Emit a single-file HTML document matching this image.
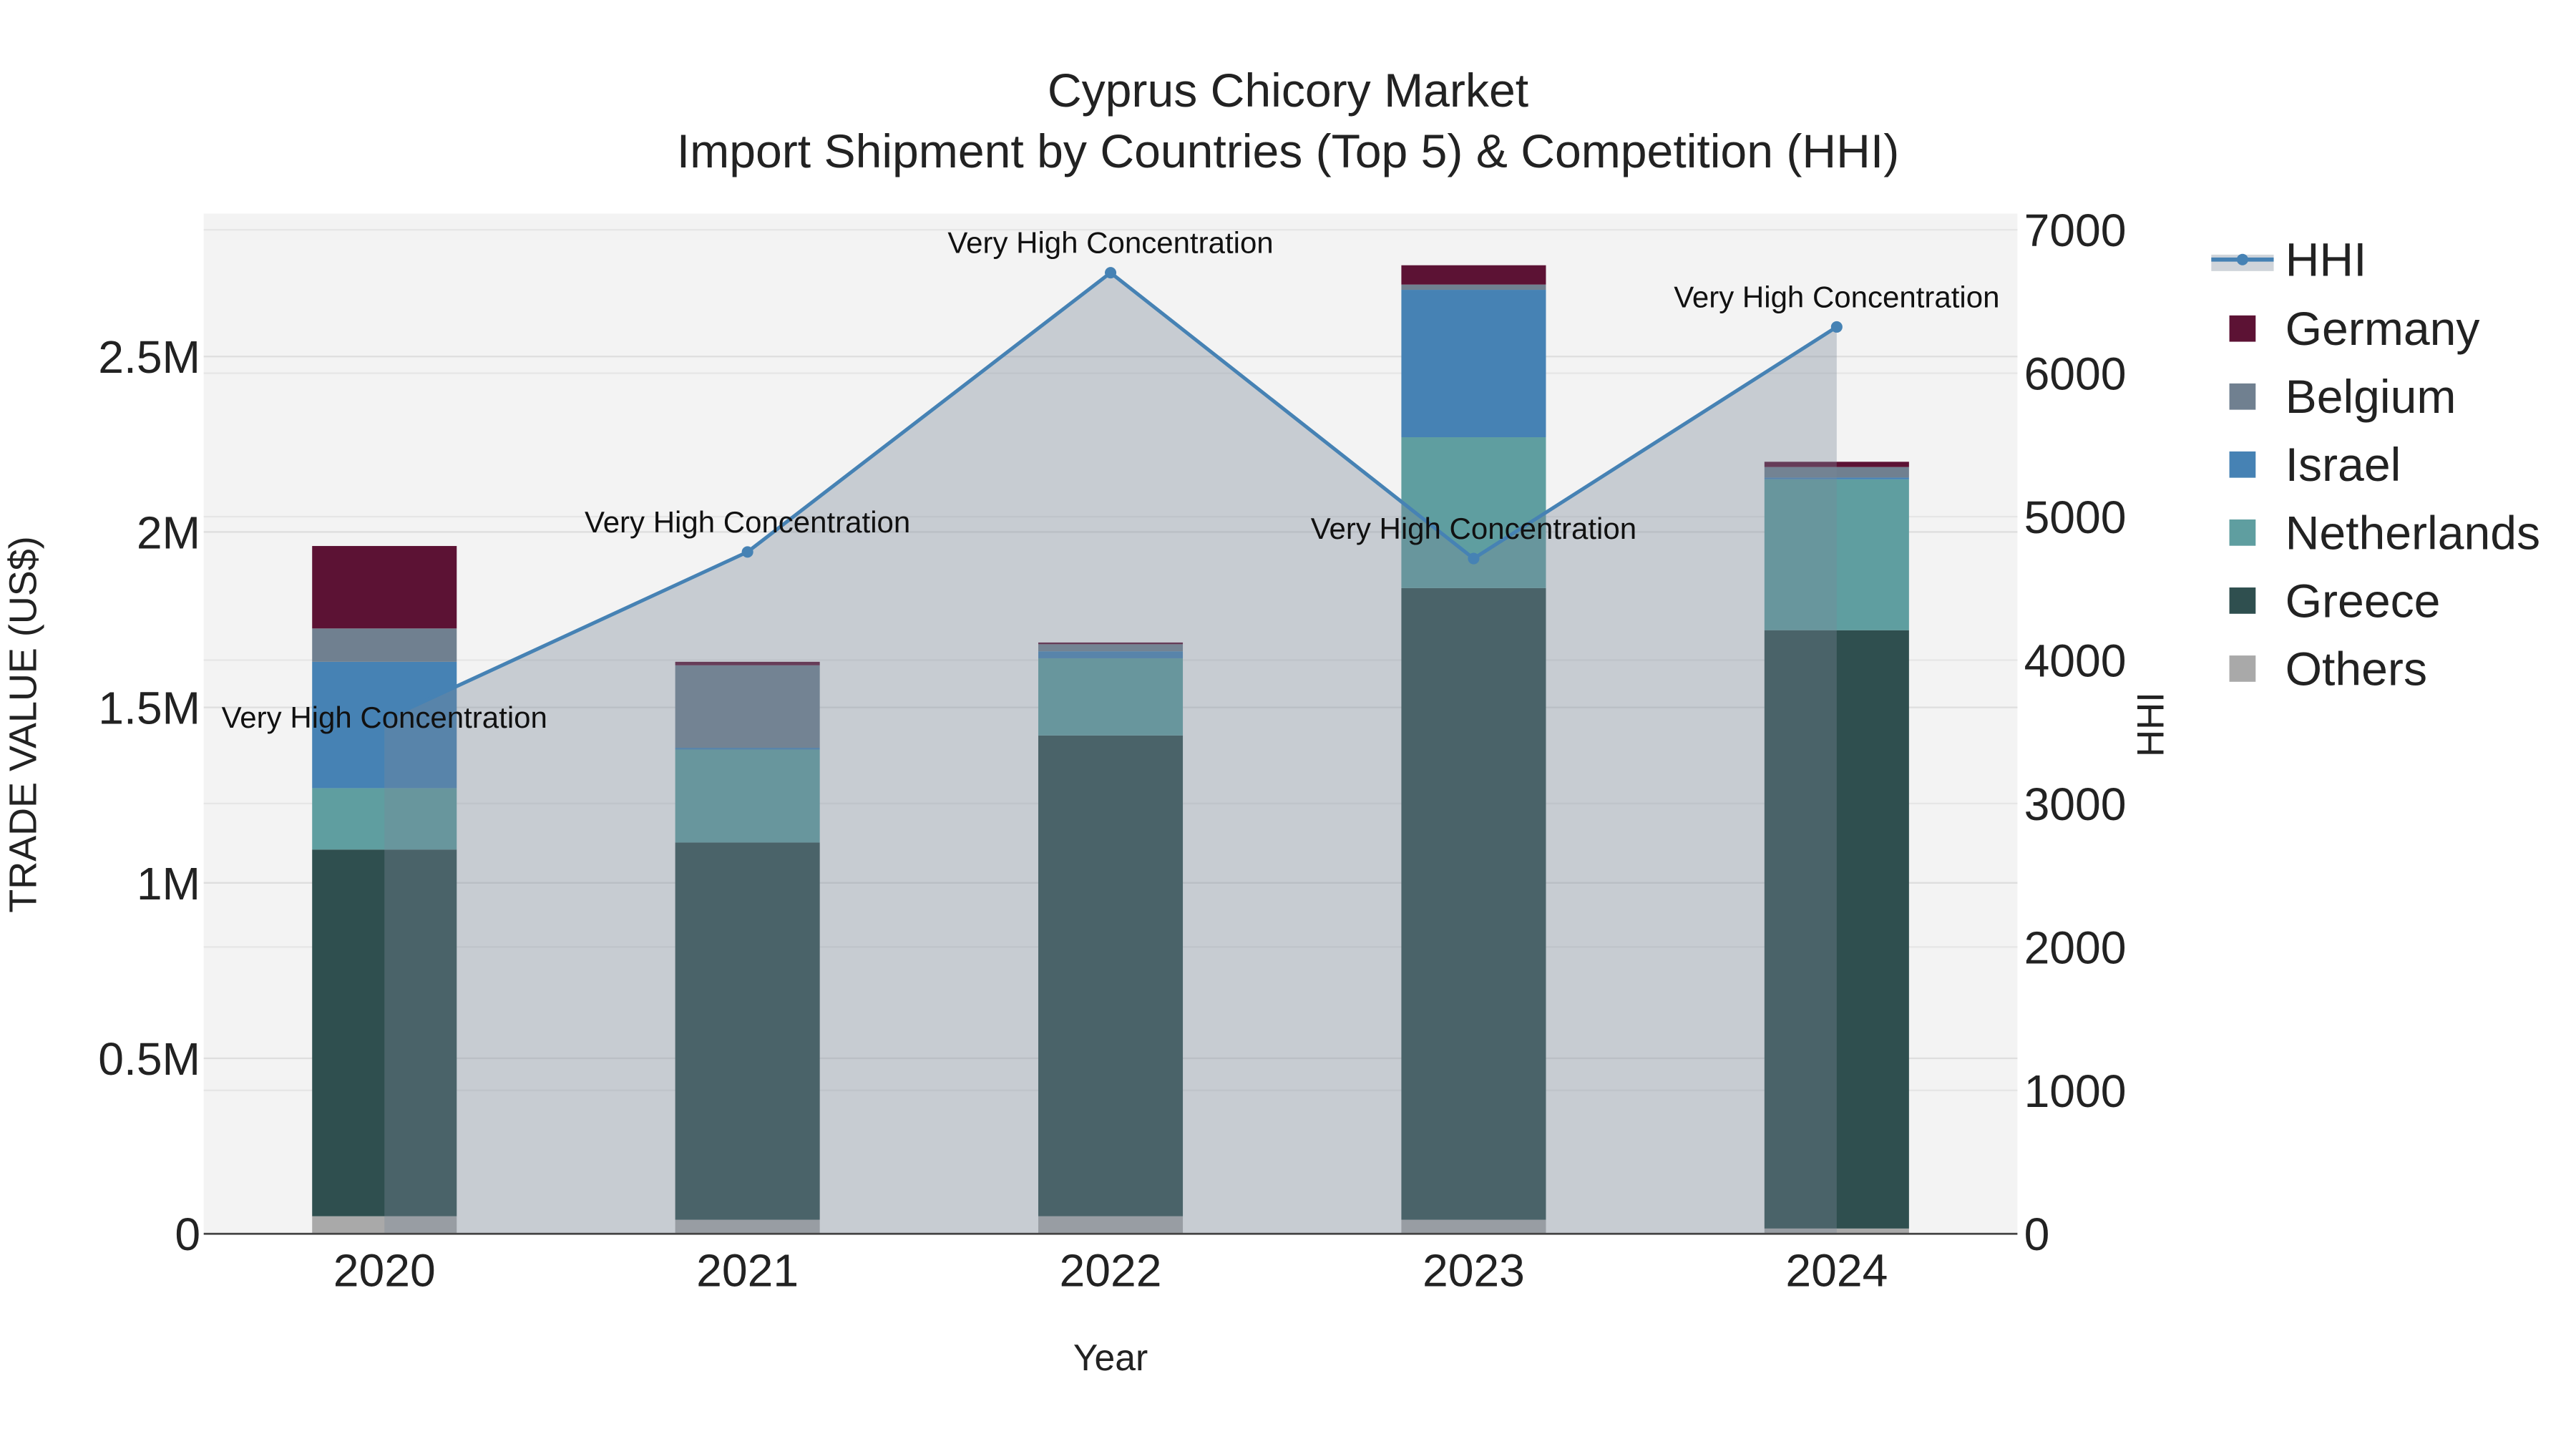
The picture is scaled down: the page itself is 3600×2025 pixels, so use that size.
<!DOCTYPE html>
<html><head><meta charset="utf-8"><style>
html,body{margin:0;padding:0;background:#fff;}
svg{display:block;font-family:"Liberation Sans",Arial,sans-serif;}
</style></head><body>
<svg id="chart" width="3600" height="2025" viewBox="0 0 1568 882" xmlns="http://www.w3.org/2000/svg">
<rect x="124" y="130" width="1104" height="621" fill="#f3f3f3"/>
<g id="grid"></g>
<g id="bars"></g>
<g id="hhi"></g>
<g id="axes"></g>
<text x="784" y="65" text-anchor="middle" font-size="28.8" fill="#222">Cyprus Chicory Market</text>
<text x="784" y="102" text-anchor="middle" font-size="28.8" fill="#222">Import Shipment by Countries (Top 5) &amp; Competition (HHI)</text>
<text x="676" y="834" text-anchor="middle" font-size="22.5" fill="#222">Year</text>
<text transform="translate(22,441) rotate(-90)" text-anchor="middle" font-size="23.5" fill="#222">TRADE VALUE (US$)</text>
<text transform="translate(1317,441) rotate(-90)" text-anchor="middle" font-size="23" fill="#222">HHI</text>
<g id="legend"></g>
</svg>
<script>
const years = ["2020","2021","2022","2023","2024"];
const seriesNames = ["Others","Greece","Netherlands","Israel","Belgium","Germany"];
const others = [0.05, 0.04, 0.05, 0.04, 0.015];
const greece = [1.045, 1.075, 1.37, 1.80, 1.705];
const netherlands = [0.175, 0.265, 0.22, 0.43, 0.43];
const israel = [0.36, 0.005, 0.02, 0.42, 0.005];
const belgium = [0.095, 0.235, 0.02, 0.015, 0.03];
const germany = [0.235, 0.01, 0.005, 0.055, 0.015];
const hhi = [3585, 4754, 6701, 4708, 6323];
const hhiLabels = ["Very High Concentration","Very High Concentration","Very High Concentration","Very High Concentration","Very High Concentration"];
const leftTicks = [0, 0.5, 1, 1.5, 2, 2.5];
const leftTickLabels = ["0","0.5M","1M","1.5M","2M","2.5M"];
const rightTicks = [0,1000,2000,3000,4000,5000,6000,7000];
const colors = {Others:"#a9a9a9",Greece:"#2f4f4f",Netherlands:"#5f9ea0",Israel:"#4682b4",Belgium:"#708090",Germany:"#5c1234"};

const NS="http://www.w3.org/2000/svg";
function mk(tag, attrs, parent){const e=document.createElementNS(NS,tag);for(const k in attrs)e.setAttribute(k,attrs[k]);parent.appendChild(e);return e;}
const x0=124, x1=1228, yBase=751;
const xC = i => 234 + i*221;
const yL = v => yBase - v*213.6;
const yR = v => yBase - v*0.0873;
const bw = 88;

const grid=document.getElementById('grid');
leftTicks.forEach(t=>{const l=mk('line',{x1:x0,x2:x1,y1:yL(t),y2:yL(t),stroke:"#dedede","stroke-width":1},grid);

});
rightTicks.forEach(t=>{const l=mk('line',{x1:x0,x2:x1,y1:yR(t),y2:yR(t),stroke:"#e6e6e6","stroke-width":1},grid);

});

const bars=document.getElementById('bars');
const data={Others:others,Greece:greece,Netherlands:netherlands,Israel:israel,Belgium:belgium,Germany:germany};
years.forEach((y,i)=>{let cum=0;seriesNames.forEach(s=>{const v=data[s][i];
const r=mk('rect',{x:xC(i)-bw/2,y:yL(cum+v),width:bw,height:yL(cum)-yL(cum+v),fill:colors[s]},bars);


cum+=v;});});

const hg=document.getElementById('hhi');
let d="M"+xC(0)+","+yBase;hhi.forEach((v,i)=>{d+=" L"+xC(i)+","+yR(v);});d+=" L"+xC(hhi.length-1)+","+yBase+" Z";
const area=mk('path',{d:d,fill:"rgba(123,135,152,0.36)"},hg);


let ld="";hhi.forEach((v,i)=>{ld+=(i?" L":"M")+xC(i)+","+yR(v);});
const line=mk('path',{d:ld,fill:"none",stroke:"#4682b4","stroke-width":2.2},hg);


hhi.forEach((v,i)=>{const c=mk('circle',{cx:xC(i),cy:yR(v),r:3.5,fill:"#4682b4"},hg);


const ty = i===0 ? yR(v)+5 : yR(v)-12;
const t=mk('text',{x:xC(i),y:ty,"text-anchor":"middle","font-size":18.3,fill:"#111"},hg);t.textContent=hhiLabels[i];

});

const ax=document.getElementById('axes');
const base=mk('line',{x1:x0,x2:x1,y1:yBase,y2:yBase,stroke:"#444","stroke-width":1.2},ax);


years.forEach((y,i)=>{const t=mk('text',{x:xC(i),y:783,"text-anchor":"middle","font-size":28,fill:"#222"},ax);t.textContent=y;

});
leftTicks.forEach((v,i)=>{const t=mk('text',{x:122,y:yL(v)+10,"text-anchor":"end","font-size":28,fill:"#222"},ax);t.textContent=leftTickLabels[i];

});
rightTicks.forEach(v=>{const t=mk('text',{x:1232,y:yR(v)+10,"text-anchor":"start","font-size":28,fill:"#222"},ax);t.textContent=String(v);

});

const lg=document.getElementById('legend');
const hr=mk('rect',{x:1346,y:155,width:38,height:10,fill:"rgba(123,135,152,0.36)"},lg);


const hl=mk('line',{x1:1346,x2:1384,y1:158,y2:158,stroke:"#4682b4","stroke-width":2.5},lg);


const hc=mk('circle',{cx:1365,cy:158,r:3.5,fill:"#4682b4"},lg);


const ht=mk('text',{x:1391,y:168,"font-size":28.8,fill:"#222"},lg);ht.textContent="HHI";


const legOrder=["Germany","Belgium","Israel","Netherlands","Greece","Others"];
legOrder.forEach((s,i)=>{const yy=200+i*41.4;
const r=mk('rect',{x:1357,y:yy-8,width:16,height:16,fill:colors[s]},lg);


const t=mk('text',{x:1391,y:yy+10,"font-size":28.8,fill:"#222"},lg);t.textContent=s;

});
</script>
</body></html>
